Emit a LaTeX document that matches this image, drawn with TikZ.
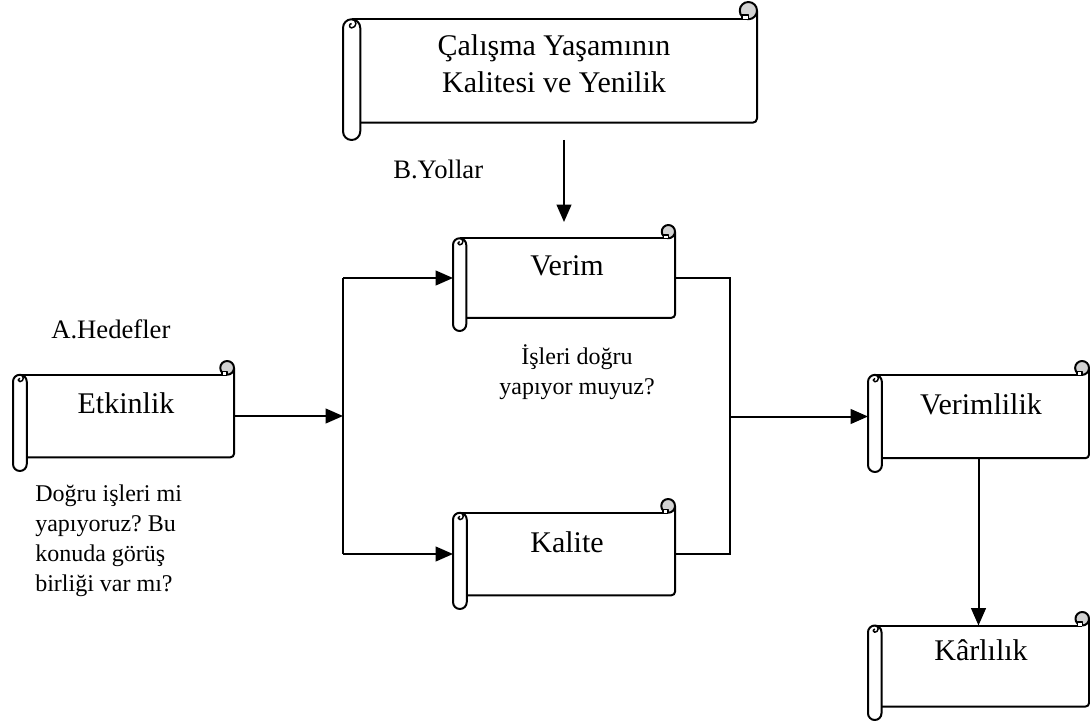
\documentclass[tikz,border=0pt]{standalone}
\usepackage{fontspec}
\setmainfont{Liberation Serif}
\usetikzlibrary{arrows.meta,calc}
\frenchspacing

\tikzset{
  outline/.style={line width=1.5pt, line join=round},
  wire/.style={line width=1.5pt},
  feed/.style={wire, -{Triangle[length=13pt,width=11pt]}},
  title/.style={font=\fontsize{22.5}{28}\selectfont, anchor=base, inner sep=0},
  note/.style={font=\fontsize{18}{22.5}\selectfont, inner sep=0, align=left},
  heading/.style={font=\fontsize{20}{24}\selectfont, inner sep=0, anchor=base west},
}

% Horizontal scroll: #1 name, #2 left, #3 top, #4 right, #5 bottom (px units)
\newcommand\scrollbox[5]{%
  \pgfmathsetmacro\sd{0.125*min(#4-#2,#5-#3)}%
  \pgfmathsetmacro\sh{\sd/2}%
  \pgfmathsetmacro\sr{0.75*\sh}%
  % sheet
  \fill[white] ({#2+\sh},{#3+\sd}) rectangle ({#4},{#5-\sd});
  \draw[outline] ({#2+\sh},{#3+\sd}) -- ({#4-\sh},{#3+\sd});
  \draw[outline] ({#4},{#3+\sh}) -- ({#4},{#5-\sd-\sh/2})
     arc[start angle=0,end angle=-90,radius=\sr/2 pt] -- ({#2+\sd},{#5-\sd});
  % right roll end
  \filldraw[outline, fill=gray!35] ({#4-\sh},{#3+\sh}) circle[radius=\sr pt];
  \filldraw[outline, line width=1pt, fill=white]
     ({#4-1.75*\sh},{#3+\sd}) -- ({#4-1.75*\sh},{#3+1.5*\sh})
     -- ({#4-\sh},{#3+1.5*\sh}) -- ({#4-\sh},{#3+\sd});
  % left roll
  \filldraw[outline, fill=white] ({#2},{#3+\sd+\sh}) -- ({#2},{#5-\sh})
     arc[start angle=180,end angle=360,radius=\sr pt]
     -- ({#2+\sd},{#3+\sd+\sh})
     arc[start angle=0,end angle=180,radius=\sr pt] -- cycle;
  \draw[outline, line width=1.1pt]
     ({#2+\sh},{#3+\sd}) arc[start angle=90,end angle=-90,radius=0.5*\sr pt]
     arc[start angle=270,end angle=90,radius=0.25*\sr pt];
  % handles
  \node[inner sep=0, outer sep=0,
        minimum width={(#4-#2)*0.75pt}, minimum height={(#5-#3)*0.75pt}]
        (#1) at ({(#2+#4)/2},{(#3+#5)/2}) {};
  \coordinate (#1-top) at ({(#2+#4)/2},{#3+\sd});
  \coordinate (#1-bot) at ({(#2+#4)/2},{#5-\sd});
}

\begin{document}
\begin{tikzpicture}[x=0.75pt,y=-0.75pt]
  \useasboundingbox (0,0) rectangle (1090,724);

  \coordinate (split) at (343,0);
  \coordinate (merge) at (730,0);
  \coordinate (drop) at (564,140);

  \scrollbox{qwl}{343}{2}{757}{140}
  \scrollbox{verim}{453}{225}{675}{331}
  \scrollbox{etk}{13}{361}{234}{471}
  \scrollbox{kalite}{453}{499}{675}{609}
  \scrollbox{vlk}{868}{361}{1089}{472}
  \scrollbox{kar}{868}{612}{1089}{720}

  % connectors
  \draw[feed] (drop) -- (drop |- 0,222);
  \draw[feed] (etk.east) -- (etk.east -| split);
  \draw[wire] (verim.west -| split) -- (kalite.west -| split);
  \draw[feed] (verim.west -| split) -- (verim.west);
  \draw[feed] (kalite.west -| split) -- (kalite.west);
  \draw[wire] (verim.east) -- (verim.east -| merge) -- (kalite.east -| merge) -- (kalite.east);
  \draw[feed] (vlk.west -| merge) -- (vlk.west);
  \draw[feed] (vlk-bot) -- (kar-top);

  % titles
  \node[title] (t1) at (554,56) {Çalışma Yaşamının};
  \node[title] (t2) at (554,93) {Kalitesi ve Yenilik};
  \node[title] (verimtxt) at (567,275) {Verim};
  \node[title] (etktxt) at (126,413) {Etkinlik};
  \node[title] (kalitetxt) at (567,552) {Kalite};
  \node[title] (vlktxt) at (981,414) {Verimlilik};
  \node[title] (kartxt) at (981,660) {Kârlılık};

  % notes
  \node[heading] (yol) at (393,178) {B.Yollar};
  \node[heading] (hedef) at (51,338) {A.Hedefler};
  \node[note, align=center] (soru1) at (577,372) {İşleri doğru\\yapıyor muyuz?};
  \node[note, anchor=west] (soru2) at (35,541) {Doğru işleri mi\\yapıyoruz? Bu\\konuda görüş\\birliği var mı?};
\end{tikzpicture}
\end{document}
